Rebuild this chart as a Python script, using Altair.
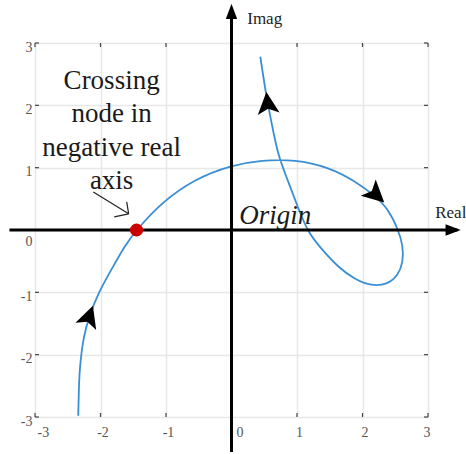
import altair as alt
import pandas as pd

# Nyquist path, listed in the direction of travel
curve_re = [-2.34, -2.33, -2.32, -2.26, -2.17, -2.03, -1.83, -1.63, -1.45, -1.07, -0.56, 0.00,
            0.46, 0.97, 1.48, 1.88, 2.19, 2.39, 2.54, 2.62, 2.62, 2.54, 2.39, 2.14,
            1.88, 1.63, 1.37, 1.17, 1.02, 0.87, 0.71, 0.61, 0.53, 0.44]
curve_im = [-2.98, -2.55, -2.23, -1.70, -1.38, -1.00, -0.63, -0.25, 0.00, 0.44, 0.82, 1.04,
            1.12, 1.13, 1.01, 0.79, 0.55, 0.34, 0.02, -0.25, -0.52, -0.73, -0.87, -0.90,
            -0.79, -0.60, -0.30, -0.04, 0.34, 0.77, 1.19, 1.73, 2.15, 2.78]

# where the path crosses the negative real axis
cross_re = [-1.45]
cross_im = [0.0]

# direction arrowheads along the path (heading in degrees, clockwise from up)
dir_re = [-2.17, 0.55, 2.21]
dir_im = [-1.38, 2.04, 0.56]
dir_heading = [19, 354, 133]

tick_values = [-3, -2, -1, 0, 1, 2, 3]

note_lines = ["Crossing", "node in", "negative real", "axis"]
note_pos = (-1.83, 2.26)

# pointer from the note to the crossing: shaft and two barbs
ptr_x1 = [-2.11, -1.79, -1.60]
ptr_y1 = [0.61, 0.21, 0.45]
ptr_x2 = [-1.57, -1.57, -1.57]
ptr_y2 = [0.26, 0.26, 0.26]

# drawn real / imaginary axes with arrow tips
real_axis = (-3.39, 3.45)
imag_axis = (-3.56, 3.50)
real_tip = (3.50, 0.0)
imag_tip = (0.0, 3.63)

W, H = 393, 374
SERIF = "Liberation Serif, Times New Roman, serif"
BLUE = "#3a8fd4"

xs = alt.Scale(domain=[-3, 3], nice=False, zero=False)
ys = alt.Scale(domain=[-3, 3], nice=False, zero=False)

curve_df = pd.DataFrame({"re": curve_re, "im": curve_im, "k": range(len(curve_re))})
cross_df = pd.DataFrame({"re": cross_re, "im": cross_im})
dir_df = pd.DataFrame({"re": dir_re, "im": dir_im, "h": dir_heading})
ticks_df = pd.DataFrame({"v": tick_values})
ptr_df = pd.DataFrame({"x1": ptr_x1, "y1": ptr_y1, "x2": ptr_x2, "y2": ptr_y2})

x_axis = alt.Axis(
    values=tick_values, grid=True, gridColor="#e8e8e8", gridWidth=1.5,
    domain=False, ticks=False, title=None,
    labelFont=SERIF, labelFontSize=14, labelColor="#555555",
    labelPadding=8, labelExpr="'' + datum.value",
    labelOffset={"condition": {"test": "datum.value === 0", "value": 8}, "value": 2},
)
y_axis = alt.Axis(
    values=tick_values, grid=True, gridColor="#e8e8e8", gridWidth=1.5,
    domain=False, ticks=False, title=None,
    labelFont=SERIF, labelFontSize=14, labelColor="#555555",
    labelPadding=3, labelBaseline="middle", labelExpr="'' + datum.value",
    labelOffset={"condition": {"test": "datum.value === 0", "value": 11}, "value": 4},
)

base = alt.Chart(ticks_df)

grid = base.mark_rule(opacity=0).encode(
    x=alt.X("v:Q", scale=xs, axis=x_axis),
    y=alt.Y("v:Q", scale=ys, axis=y_axis),
)

# short inward ticks on the four sides of the box
tk = dict(color="#444444", strokeWidth=1.2)
t_left = base.mark_rule(**tk).encode(y=alt.Y("v:Q", scale=ys), x=alt.value(0), x2=alt.value(4))
t_right = base.mark_rule(**tk).encode(y=alt.Y("v:Q", scale=ys), x=alt.value(W - 4), x2=alt.value(W))
t_bottom = base.mark_rule(**tk).encode(x=alt.X("v:Q", scale=xs), y=alt.value(H - 4), y2=alt.value(H))
t_top = base.mark_rule(**tk).encode(x=alt.X("v:Q", scale=xs), y=alt.value(0), y2=alt.value(4))

curve = alt.Chart(curve_df).mark_line(
    color=BLUE, strokeWidth=1.8, interpolate="basis", clip=False
).encode(
    x=alt.X("re:Q", scale=xs), y=alt.Y("im:Q", scale=ys), order="k:Q"
)

axes_df = pd.DataFrame({
    "x1": [real_axis[0], 0.0], "x2": [real_axis[1], 0.0],
    "y1": [0.0, imag_axis[0]], "y2": [0.0, imag_axis[1]],
})
axis_lines = alt.Chart(axes_df).mark_rule(color="black", strokeWidth=3, clip=False).encode(
    x=alt.X("x1:Q", scale=xs), x2="x2:Q",
    y=alt.Y("y1:Q", scale=ys), y2="y2:Q",
)

tips_df = pd.DataFrame({"x": [real_tip[0], imag_tip[0]], "y": [real_tip[1], imag_tip[1]],
                        "h": [90, 0]})
axis_tips = alt.Chart(tips_df).mark_point(
    shape="M0,0L0.6,1.6L-0.6,1.6Z", filled=True, color="black", opacity=1,
    size=360, clip=False, strokeWidth=0
).encode(
    x=alt.X("x:Q", scale=xs), y=alt.Y("y:Q", scale=ys), angle=alt.Angle("h:Q", scale=None)
)

dir_marks = alt.Chart(dir_df).mark_point(
    shape="M0,-1L1,1L0,0.55L-1,1Z", filled=True, color="black", opacity=1,
    size=480, strokeWidth=0
).encode(
    x=alt.X("re:Q", scale=xs), y=alt.Y("im:Q", scale=ys), angle=alt.Angle("h:Q", scale=None)
)

cross = alt.Chart(cross_df).mark_point(
    shape="circle", filled=True, color="#cc0000", opacity=1, size=170
).encode(x=alt.X("re:Q", scale=xs), y=alt.Y("im:Q", scale=ys))

pointer = alt.Chart(ptr_df).mark_rule(color="#222222", strokeWidth=1.2).encode(
    x=alt.X("x1:Q", scale=xs), x2="x2:Q",
    y=alt.Y("y1:Q", scale=ys), y2="y2:Q",
)

note_df = pd.DataFrame({"re": [note_pos[0]], "im": [note_pos[1]], "t": ["\n".join(note_lines)]})
note = alt.Chart(note_df).mark_text(
    font=SERIF, fontSize=27, color="#1a1a1a", align="center", baseline="alphabetic",
    lineBreak="\n", lineHeight=33.3
).encode(x=alt.X("re:Q", scale=xs), y=alt.Y("im:Q", scale=ys), text="t:N")

origin_df = pd.DataFrame({"re": [0.12], "im": [0.10], "t": ["Origin"]})
origin = alt.Chart(origin_df).mark_text(
    font=SERIF, fontSize=27, fontStyle="italic", color="#1a1a1a",
    align="left", baseline="alphabetic", clip=False
).encode(x=alt.X("re:Q", scale=xs), y=alt.Y("im:Q", scale=ys), text="t:N")

names_df = pd.DataFrame({"re": [0.24, 3.11], "im": [3.39, 0.27], "t": ["Imag", "Real"]})
axis_names = alt.Chart(names_df).mark_text(
    font=SERIF, fontSize=17, color="#222222", align="left", baseline="middle", clip=False
).encode(x=alt.X("re:Q", scale=xs), y=alt.Y("im:Q", scale=ys), text="t:N")

chart = alt.layer(
    grid, t_left, t_right, t_bottom, t_top, curve, axis_lines, axis_tips,
    dir_marks, cross, pointer, note, origin, axis_names
).properties(
    width=W, height=H,
    autosize=alt.AutoSizeParams(type="none"),
    padding={"left": 35, "top": 43, "right": 38, "bottom": 37},
).configure_view(
    stroke="#4d4d4d", strokeWidth=1.5
).configure(background="white")

chart.save("out.html", embed_options={"renderer": "svg", "actions": False})
